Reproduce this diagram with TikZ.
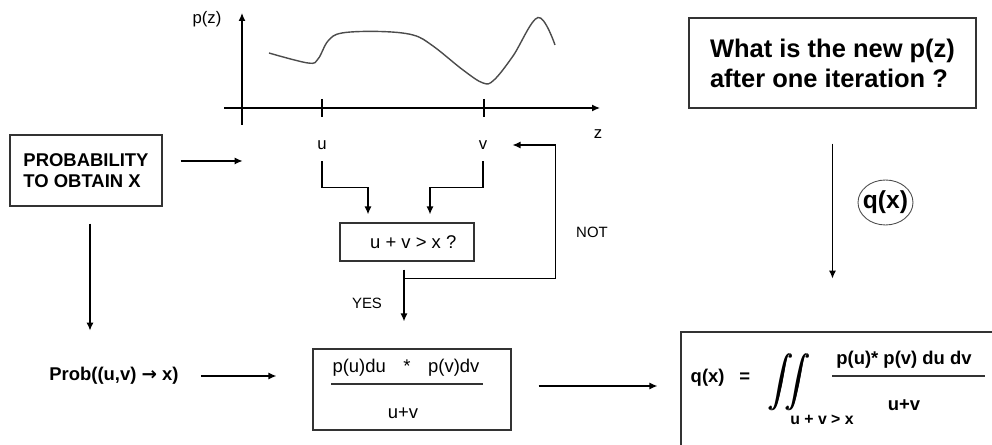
\documentclass[tikz,border=0pt]{standalone}
\usepackage{amsmath}
\usepackage{fontspec}
\setmainfont{Liberation Sans}
\newfontfamily\arrowfont{DejaVu Sans}
\usetikzlibrary{arrows.meta,positioning,shapes.geometric}

\begin{document}
\begin{tikzpicture}[x=0.02cm,y=-0.02cm,
  box/.style={draw=black!80,line width=0.7pt,inner sep=0pt,align=center},
  txt/.style={inner sep=0pt,font=\fontsize{10.5}{12.5}\selectfont},
  lbl/.style={inner sep=0pt,font=\fontsize{9.5}{11}\selectfont},
  small/.style={inner sep=0pt,font=\fontsize{8.5}{10}\selectfont},
  bold/.style={inner sep=0pt,font=\fontsize{10.5}{12.5}\selectfont\bfseries},
  arr/.style={-{Latex[length=1.6mm,width=1.4mm]},line width=0.7pt}]
  \useasboundingbox (0,0) rectangle (992,445);
  \clip (0,0) rectangle (992,445);

  % axes and curve p(z)
  \coordinate (O) at (242,108);
  \draw[arr] ([shift={(0,17)}]O) -- ([shift={(0,-95)}]O);
  \draw[arr] ([shift={(-18,0)}]O) -- ([shift={(358,0)}]O);
  \foreach \t in {80,242}
    \draw[line width=0.7pt] ([shift={(\t,-9)}]O) -- ([shift={(\t,9)}]O);
  \draw[line width=0.8pt,black!70] plot[smooth,tension=0.6] coordinates
    {(269,53) (308,63) (318,59) (328,41) (342,33) (380,31.5) (413,35)
     (433,46) (463,70) (483,83) (494,80) (513,56) (538,17.5) (555,45)};
  \node[lbl] (pz) at (207,19) {p(z)};
  \node[lbl] (lz) at (598,134) {z};
  \node[lbl] (lu) at (322,145) {u};
  \node[lbl] (lv) at (483,145) {v};

  % left column
  \node[box,minimum width=3.04cm,minimum height=1.42cm,align=left,
        font=\fontsize{10.5}{12}\selectfont\bfseries]
        (probx) at (86,170.5) {PROBABILITY\\TO OBTAIN X};
  \draw[arr] ([shift={(18,-9.5)}]probx.east) -- ([shift={(80,-9.5)}]probx.east);
  \draw[arr] ([shift={(4,17)}]probx.south) -- ([shift={(4,124)}]probx.south);
  \node[bold] (prob) at (114,376) {Prob((u,v) {\arrowfont\bfseries →} x)};

  % test u+v>x and weight box
  \node[box,minimum width=2.68cm,minimum height=0.76cm,
        font=\fontsize{10.5}{12.5}\selectfont]
        (test) at (407,242) {\hspace{0.25cm}u + v > x ?};
  \node[box,minimum width=3.96cm,minimum height=1.62cm] (frac) at (412,389.5) {};
  \draw[arr,shorten <=0.23cm,shorten >=0.16cm]
    (lu.south) -- ++(0,38) -| ([xshift=-0.78cm]test.north);
  \draw[arr,shorten <=0.23cm,shorten >=0.16cm]
    (lv.south) -- ++(0,38) -| ([xshift=0.46cm]test.north);
  \coordinate (ts) at ([xshift=-0.06cm]test.south);
  \draw[arr,shorten <=0.16cm,shorten >=0.54cm] (ts) -- (ts |- frac.north);
  \draw[arr,shorten >=0.5cm]
    ([shift={(0,17)}]ts) -| ([xshift=1.36cm]lv.east) -- (lv.east);
  \node[small] (no) at (592,232) {NOT};
  \node[small] (yes) at (367,303) {YES};

  \node[txt] (num) at (406,368) {p(u)du\hspace{10pt}*\hspace{10pt}p(v)dv};
  \draw[line width=0.7pt,black!80] (331,384) -- (483,384);
  \node[txt] (den) at (403,413) {u+v};
  \draw[arr,shorten <=0.44cm,shorten >=0.72cm] (prob.east) -- (prob.east -| frac.west);

  % right column
  \node[box,minimum width=5.74cm,minimum height=1.8cm,align=left,
        font=\fontsize{14.5}{17}\selectfont\bfseries]
        (quest) at (832.5,63) {What is the new p(z)\\after one iteration ?};
  \draw[arr,shorten <=0.7cm] (quest.south) -- ++(0,170);
  \node[inner sep=0pt,font=\fontsize{14}{16}\selectfont\bfseries] (qx) at (885.5,202.5) {q(x)};
  \draw[black!70,line width=0.5pt] (qx.center) ellipse [x radius=0.55cm,y radius=0.45cm];

  % result
  \node[box,minimum width=6.4cm,minimum height=2.72cm] (form) at (841,400) {};
  \coordinate (fe) at ([yshift=0.07cm]frac.east);
  \draw[arr,shorten <=0.54cm,shorten >=0.46cm] (fe) -- (fe -| form.west);
  \node[bold] (qeq) at (720.5,378) {q(x)\hspace{8.5pt}=};
  \node[inner sep=0pt] (intg) at (790,382)
        {\fontsize{15.5}{16}\selectfont$\displaystyle\pmb{\int}\!\!\pmb{\int}$};
  \node[bold,font=\fontsize{9}{10}\selectfont\bfseries] (cond) at (822,420) {u + v > x};
  \node[bold] (fnum) at (904,360) {p(u)* p(v) du dv};
  \draw[line width=0.7pt,black!80] (832,376) -- (985,376);
  \node[bold] (fden) at (904,405) {u+v};
\end{tikzpicture}
\end{document}
